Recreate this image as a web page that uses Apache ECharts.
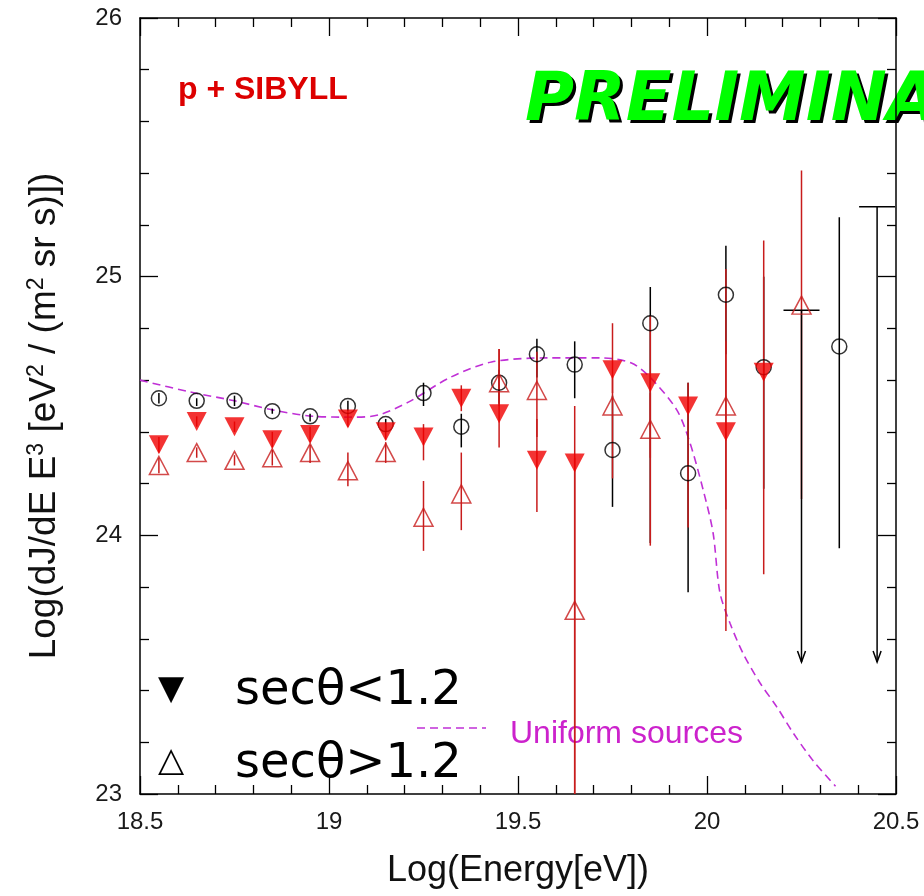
<!DOCTYPE html>
<html>
<head>
<meta charset="utf-8">
<script src="https://cdn.jsdelivr.net/npm/echarts@6/dist/echarts.min.js"></script>
<style>
html,body{margin:0;padding:0;background:#fff;}
#chart{width:924px;height:896px;}
</style>
</head>
<body>
<div id="chart"></div>
<script>
// ---- data ----
const xTicks = [18.5, 19, 19.5, 20, 20.5];
const yTicks = [23, 24, 25, 26];

// all-angle points (open circles)
const circX  = [18.55,18.65,18.75,18.85,18.95,19.05,19.15,19.25,19.35,19.45,19.55,19.65,19.75,19.85,19.95,20.05,20.15,20.35];
const circY  = [24.53,24.52,24.52,24.48,24.46,24.50,24.43,24.55,24.42,24.59,24.70,24.66,24.33,24.82,24.24,24.93,24.65,24.73];
const circHi = [24.55,24.53,24.54,24.49,24.47,24.52,24.45,24.59,24.47,24.64,24.76,24.75,24.54,24.96,24.59,25.12,25.00,25.23];
const circLo = [24.51,24.50,24.50,24.47,24.44,24.48,24.40,24.50,24.34,24.51,24.61,24.53,24.11,23.97,23.78,24.70,24.18,23.95];

// sec(theta) < 1.2 (filled down triangles)
const dnX  = [18.55,18.65,18.75,18.85,18.95,19.05,19.15,19.25,19.35,19.45,19.55,19.65,19.75,19.85,19.95,20.05,20.15];
const dnY  = [24.35,24.44,24.42,24.37,24.39,24.45,24.40,24.38,24.53,24.47,24.29,24.28,24.64,24.59,24.50,24.40,24.63];
const dnHi = [24.38,24.46,24.44,24.40,24.42,24.48,24.43,24.43,24.58,24.72,24.45,24.50,24.82,24.85,24.59,24.75,25.14];
const dnLo = [24.32,24.42,24.40,24.34,24.36,24.42,24.37,24.29,24.48,24.34,24.09,22.80,24.55,24.30,24.03,23.63,23.85];

// sec(theta) > 1.2 (open up triangles)
const upX  = [18.55,18.65,18.75,18.85,18.95,19.05,19.15,19.25,19.35,19.45,19.55,19.65,19.75,19.85,20.05,20.25];
const upY  = [24.27,24.32,24.29,24.30,24.32,24.25,24.32,24.07,24.16,24.59,24.56,23.71,24.50,24.41,24.50,24.89];
const upHi = [24.30,24.34,24.31,24.33,24.35,24.32,24.36,24.21,24.32,24.72,24.71,24.30,24.62,24.55,25.03,25.41];
const upLo = [24.24,24.30,24.27,24.27,24.28,24.19,24.28,23.94,24.02,24.50,24.38,22.80,24.22,23.96,24.10,24.14];

// upper limits (arrows)
const ulX   = [20.25, 20.45];
const ulY   = [24.87, 25.27];
const ulTip = [23.51, 23.51];

// uniform sources model (dashed curve)
const modelX = [18.50,18.63,18.75,18.85,18.96,19.06,19.13,19.21,19.32,19.43,19.58,19.72,19.80,19.85,19.92,19.955,19.99,20.016,20.034,20.061,20.095,20.14,20.185,20.228,20.28,20.34];
const modelY = [24.60,24.555,24.52,24.485,24.46,24.457,24.465,24.515,24.61,24.67,24.686,24.686,24.666,24.61,24.485,24.357,24.175,24.01,23.78,23.66,23.545,23.43,23.336,23.236,23.13,23.03];

// ---- build ----
const zip = (...a) => a[0].map((_, i) => a.map(arr => arr[i]));

function errBar(color) {
  return function (params, api) {
    const x = api.value(0);
    const p1 = api.coord([x, api.value(1)]);
    const p2 = api.coord([x, api.value(2)]);
    return { type: 'line', shape: { x1: p1[0], y1: p1[1], x2: p2[0], y2: p2[1] },
      style: { stroke: color, lineWidth: 1.5 } };
  };
}

function upperLimit(params, api) {
  const x = api.value(0);
  const top = api.coord([x, api.value(1)]);
  const tip = api.coord([x, api.value(2)]);
  return { type: 'group', children: [
    { type: 'line', shape: { x1: top[0], y1: top[1], x2: tip[0], y2: tip[1] }, style: { stroke: '#000', lineWidth: 1.5 } },
    { type: 'line', shape: { x1: top[0] - 18, y1: top[1], x2: top[0] + 18, y2: top[1] }, style: { stroke: '#000', lineWidth: 1.5 } },
    { type: 'polyline', shape: { points: [[tip[0] - 4, tip[1] - 11], [tip[0], tip[1]], [tip[0] + 4, tip[1] - 11]] }, style: { stroke: '#000', lineWidth: 1.5, fill: 'none' } }
  ]};
}

const chart = echarts.init(document.getElementById('chart'), null, { renderer: 'canvas' });

const axisCommon = {
  type: 'value',
  axisLine: { show: true, onZero: false, lineStyle: { color: '#000', width: 1.5 } },
  axisTick: { show: true, inside: true, length: 18, lineStyle: { color: '#000', width: 1.3 } },
  minorTick: { show: true, splitNumber: 5, length: 9, lineStyle: { color: '#000', width: 1.3 } },
  splitLine: { show: false },
  minorSplitLine: { show: false }
};
const labelStyle = { color: '#1a1a1a', fontFamily: 'Liberation Sans', fontSize: 24 };

const option = {
  backgroundColor: '#fff',
  animation: false,
  grid: { left: 140, right: 28, top: 18, bottom: 102, containLabel: false },
  xAxis: [
    Object.assign({}, axisCommon, { position: 'bottom', min: xTicks[0], max: xTicks[xTicks.length - 1], interval: 0.5,
      axisLabel: Object.assign({ show: true, margin: 16, formatter: v => String(v) }, labelStyle) }),
    Object.assign({}, axisCommon, { position: 'top', min: xTicks[0], max: xTicks[xTicks.length - 1], interval: 0.5,
      axisLabel: { show: false } })
  ],
  yAxis: [
    Object.assign({}, axisCommon, { position: 'left', min: yTicks[0], max: yTicks[yTicks.length - 1], interval: 1,
      axisLabel: Object.assign({ show: true, margin: 18 }, labelStyle) }),
    Object.assign({}, axisCommon, { position: 'right', min: yTicks[0], max: yTicks[yTicks.length - 1], interval: 1,
      axisLabel: { show: false } })
  ],
  series: [
    { type: 'line', data: zip(modelX, modelY), showSymbol: false, smooth: 0.3, z: 1,
      lineStyle: { color: '#c030d6', width: 1.6, type: [8, 5] }, clip: true },
    { type: 'custom', renderItem: errBar('#000'), data: zip(circX, circHi, circLo), encode: { x: 0, y: [1, 2] }, clip: true, z: 2 },
    { type: 'custom', renderItem: errBar('#c81c1c'), data: zip(dnX, dnHi, dnLo), encode: { x: 0, y: [1, 2] }, clip: true, z: 2 },
    { type: 'custom', renderItem: errBar('#c81c1c'), data: zip(upX, upHi, upLo), encode: { x: 0, y: [1, 2] }, clip: true, z: 2 },
    { type: 'custom', renderItem: upperLimit, data: zip(ulX, ulY, ulTip), encode: { x: 0, y: [1, 2] }, clip: true, z: 2 },
    { type: 'scatter', data: zip(circX, circY), symbol: 'circle', symbolSize: 15, z: 3,
      itemStyle: { color: 'rgba(0,0,0,0)', borderColor: '#000', borderWidth: 1.5 } },
    { type: 'scatter', data: zip(dnX, dnY), symbol: 'triangle', symbolRotate: 180, symbolSize: [20, 19], z: 4,
      itemStyle: { color: '#f00000' } },
    { type: 'scatter', data: zip(upX, upY), symbol: 'triangle', symbolSize: [19, 18], z: 4,
      itemStyle: { color: 'rgba(0,0,0,0)', borderColor: '#c81c1c', borderWidth: 1.5 } }
  ],
  graphic: [
    { type: 'text', x: 518, y: 871, style: { text: 'Log(Energy[eV])', font: '36px "Liberation Sans"', fill: '#111', textAlign: 'center', textVerticalAlign: 'middle' } },
    { type: 'text', x: 45, y: 416, rotation: Math.PI / 2,
      style: { text: '{n|Log(dJ/dE E}{s|3}{n| [eV}{s|2}{n| / (m}{s|2}{n| sr s)])}', textAlign: 'center', textVerticalAlign: 'middle', fill: '#111',
        rich: { n: { font: '37px "Liberation Sans"', fill: '#111', lineHeight: 40 },
                s: { font: '23px "Liberation Sans"', fill: '#111', lineHeight: 22, verticalAlign: 'top' } } } },
    { type: 'text', x: 178, y: 90, style: { text: 'p + SIBYLL', font: 'bold 32px "Liberation Sans"', fill: '#dd0000', textVerticalAlign: 'middle' } },
    { type: 'text', x: 528, y: 106, style: { text: 'PRELIMINARY', font: 'italic bold 67px "DejaVu Sans"', fill: '#000', textVerticalAlign: 'middle' } },
    { type: 'text', x: 525, y: 103, style: { text: 'PRELIMINARY', font: 'italic bold 67px "DejaVu Sans"', fill: '#00ff00', textVerticalAlign: 'middle' } },
    { type: 'text', x: 171, y: 690, style: { text: '▼', font: '34px "DejaVu Sans"', fill: '#000', textAlign: 'center', textVerticalAlign: 'middle' } },
    { type: 'text', x: 235, y: 692, style: { text: 'secθ<1.2', font: '48px "DejaVu Sans"', fill: '#000', textVerticalAlign: 'middle' } },
    { type: 'text', x: 171, y: 762, style: { text: '△', font: '34px "DejaVu Sans"', fill: '#000', textAlign: 'center', textVerticalAlign: 'middle' } },
    { type: 'text', x: 235, y: 765, style: { text: 'secθ>1.2', font: '48px "DejaVu Sans"', fill: '#000', textVerticalAlign: 'middle' } },
    { type: 'line', shape: { x1: 417, y1: 728, x2: 486, y2: 728 }, style: { stroke: '#c030d6', lineWidth: 1.6, lineDash: [8, 5] } },
    { type: 'text', x: 510, y: 734, style: { text: 'Uniform sources', font: '32px "Liberation Sans"', fill: '#cc22cc', textVerticalAlign: 'middle' } }
  ]
};
chart.setOption(option);
</script>
</body>
</html>
